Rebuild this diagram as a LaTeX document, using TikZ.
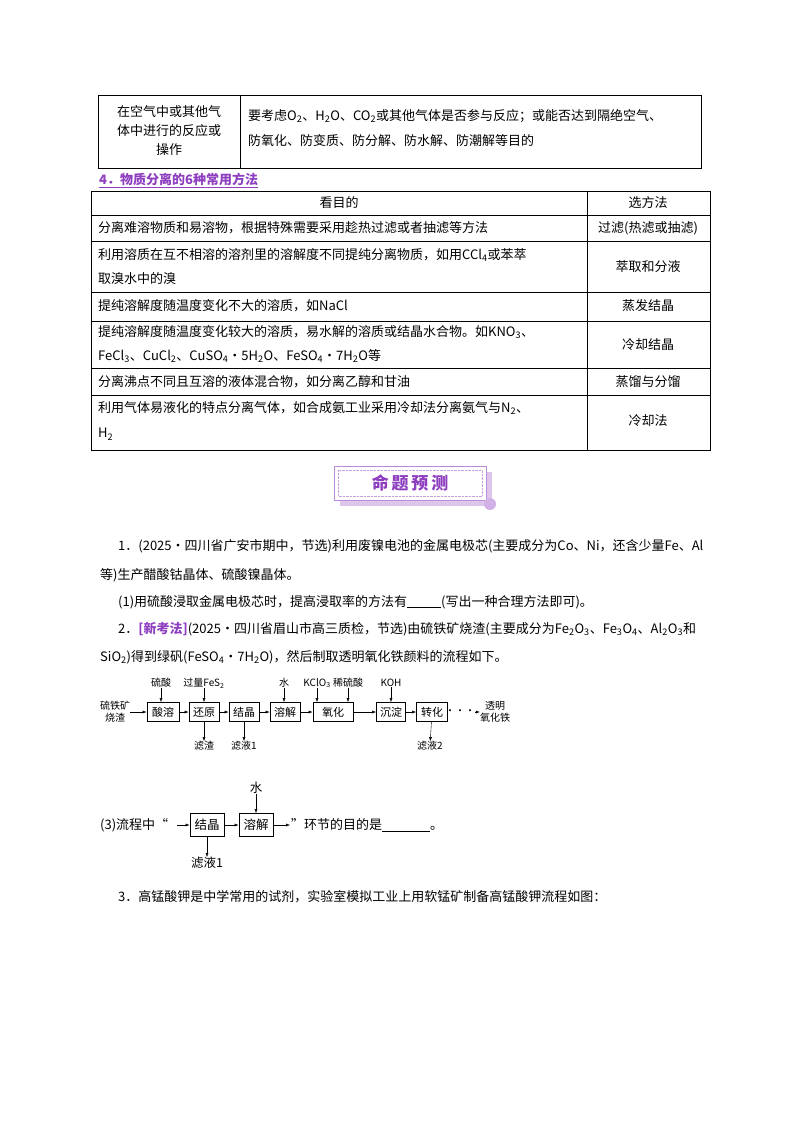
\documentclass[tikz,border=0pt]{standalone}
\usepackage{fontspec}
\setmainfont{Noto Sans CJK SC}
\usetikzlibrary{arrows.meta}
\definecolor{pur}{HTML}{8E3FC0}
\newcommand{\sbb}[1]{\textsubscript{#1}}
\begin{document}
\begin{tikzpicture}[x=1pt,y=-1pt,font=\fontsize{13}{15}\selectfont,
 tx/.style={anchor=west,inner sep=0},
 fb/.style={draw,thick,minimum height=19pt,inner sep=1pt,font=\fontsize{11}{13}\selectfont},
 fl/.style={font=\fontsize{10}{12}\selectfont,inner sep=0},
 ar/.style={-{Latex[length=4pt,width=3pt]},thin}]
\useasboundingbox (0,0) rectangle (800,1132);
% table 1
\draw (98,95) rectangle (701,168); \draw (240,95)--(240,168);
\node[align=center,inner sep=0] (c1) at (169,131) {在空气中或其他气\\[4pt]体中进行的反应或\\[4pt]操作};
\node[tx] (c2) at (248,116) {要考虑O\sbb{2}、H\sbb{2}O、CO\sbb{2}或其他气体是否参与反应；或能否达到隔绝空气、};
\node[tx] (c3) at (248,141) {防氧化、防变质、防分解、防水解、防潮解等目的};
\node[tx,text=pur,font=\bfseries\fontsize{13}{15}\selectfont] (h4) at (99,180) {\underline{4．物质分离的6种常用方法}};
% table 2
\draw (91,191) rectangle (710,450); \draw (587,191)--(587,450);
\foreach \yy in {215,241,292,321,368,395} \draw (91,\yy)--(710,\yy);
\node (t0) at (339,203) {看目的}; \node (t1) at (648,203) {选方法};
\node[tx] (a1) at (98,228) {分离难溶物质和易溶物，根据特殊需要采用趁热过滤或者抽滤等方法};
\node (b1) at (648,228) {过滤(热滤或抽滤)};
\node[tx] (a2) at (98,255) {利用溶质在互不相溶的溶剂里的溶解度不同提纯分离物质，如用CCl\sbb{4}或苯萃};
\node[tx] (a2b) at (98,279) {取溴水中的溴};
\node (b2) at (648,267) {萃取和分液};
\node[tx] (a3) at (98,306) {提纯溶解度随温度变化不大的溶质，如NaCl};
\node (b3) at (648,306) {蒸发结晶};
\node[tx] (a4) at (98,332) {提纯溶解度随温度变化较大的溶质，易水解的溶质或结晶水合物。如KNO\sbb{3}、};
\node[tx] (a4b) at (98,356) {FeCl\sbb{3}、CuCl\sbb{2}、CuSO\sbb{4}·5H\sbb{2}O、FeSO\sbb{4}·7H\sbb{2}O等};
\node (b4) at (648,345) {冷却结晶};
\node[tx] (a5) at (98,382) {分离沸点不同且互溶的液体混合物，如分离乙醇和甘油};
\node (b5) at (648,382) {蒸馏与分馏};
\node[tx] (a6) at (98,408) {利用气体易液化的特点分离气体，如合成氨工业采用冷却法分离氨气与N\sbb{2}、};
\node[tx] (a6b) at (98,434) {H\sbb{2}};
\node (b6) at (648,421) {冷却法};
% banner
\fill[pur!30] (340,472) rectangle (492,506);
\fill[white] (334,466) rectangle (486,500);
\draw[pur!60,thick] (334,466) rectangle (486,500);
\draw[pur!50,densely dotted] (338,470) rectangle (482,496);
\fill[pur!40] (490,504) circle (6);
\node[text=pur,font=\bfseries\fontsize{17}{19}\selectfont] (bn) at (410,483) {命\,题\,预\,测};
% paragraphs
\node[tx] (p1) at (118,546) {1．(2025·四川省广安市期中，节选)利用废镍电池的金属电极芯(主要成分为Co、Ni，还含少量Fe、Al};
\node[tx] (p2) at (100,575) {等)生产醋酸钴晶体、硫酸镍晶体。};
\node[tx] (p3) at (118,602) {(1)用硫酸浸取金属电极芯时，提高浸取率的方法有\underline{\hspace{34pt}}(写出一种合理方法即可)。};
\node[tx] (p4) at (118,629) {2．\textcolor{pur}{\bfseries[新考法]}(2025·四川省眉山市高三质检，节选)由硫铁矿烧渣(主要成分为Fe\sbb{2}O\sbb{3}、Fe\sbb{3}O\sbb{4}、Al\sbb{2}O\sbb{3}和};
\node[tx] (p5) at (100,657) {SiO\sbb{2})得到绿矾(FeSO\sbb{4}•7H\sbb{2}O)，然后制取透明氧化铁颜料的流程如下。};
% flowchart 1
\node[fl,align=center] (s0) at (115,712) {硫铁矿\\烧渣};
\node[fb,minimum width=32pt] (f1) at (163,712) {酸溶};
\node[fb,minimum width=30pt] (f2) at (204,712) {还原};
\node[fb,minimum width=30pt] (f3) at (244,712) {结晶};
\node[fb,minimum width=30pt] (f4) at (285,712) {溶解};
\node[fb,minimum width=40pt] (f5) at (333,712) {氧化};
\node[fb,minimum width=29pt] (f6) at (391,712) {沉淀};
\node[fl] (f6t) at (391,683) {KOH};
\node[fb,minimum width=31pt] (f7) at (432,712) {转化};
\node[fl] (dots) at (460,712) {···};
\node[fl,align=center] (end) at (495,712) {透明\\氧化铁};
\foreach \a/\b in {s0/f1,f1/f2,f2/f3,f3/f4,f4/f5,f5/f6,f6/f7} \draw[ar] (\a)--(\b);
\draw[ar] (dots)--(end);
\node[fl] (t1) at (161,683) {硫酸}; \draw[ar] (t1)--(t1|-f1.north);
\node[fl] (t2) at (204,683) {过量FeS\sbb{2}}; \draw[ar] (t2)--(t2|-f2.north);
\node[fl] (t3) at (284,683) {水}; \draw[ar] (t3)--(t3|-f4.north);
\node[fl] (t4) at (317,683) {KClO\sbb{3}}; \draw[ar] (t4)--(t4|-f5.north);
\node[fl] (t5) at (348,683) {稀硫酸}; \draw[ar] (t5)--(t5|-f5.north);
\draw[ar] (f6t)--(f6);
\node[fl] (d1) at (204,746) {滤渣}; \draw[ar] (f2)--(d1);
\node[fl] (d2) at (244,746) {滤液1}; \draw[ar] (f3)--(d2);
\node[fl] (d3) at (430,746) {滤液2}; \draw[ar] (f7)--(d3);
% flowchart 2
\node[tx] (q1) at (100,825) {(3)流程中“};
\coordinate (qs) at (177,825);
\node[fb,minimum width=34pt,minimum height=23pt,font=\fontsize{12.5}{14}\selectfont] (g1) at (207,825) {结晶};
\node[fb,minimum width=34pt,minimum height=23pt,font=\fontsize{12.5}{14}\selectfont] (g2) at (256,825) {溶解};
\coordinate (qe) at (290,825);
\node[tx] (q2) at (291,825) {”环节的目的是\underline{\hspace{48pt}}。};
\draw[ar] (qs)--(g1); \draw[ar] (g1)--(g2); \draw[ar] (g2)--(qe);
\node[fl,font=\fontsize{12.5}{14}\selectfont] (w) at (256,788) {水}; \draw[ar] (w)--(g2);
\node[fl,font=\fontsize{12.5}{14}\selectfont] (l1) at (207,863) {滤液1}; \draw[ar] (g1)--(l1);
\node[tx] (p6) at (118,897) {3．高锰酸钾是中学常用的试剂，实验室模拟工业上用软锰矿制备高锰酸钾流程如图：};
\end{tikzpicture}
\end{document}
